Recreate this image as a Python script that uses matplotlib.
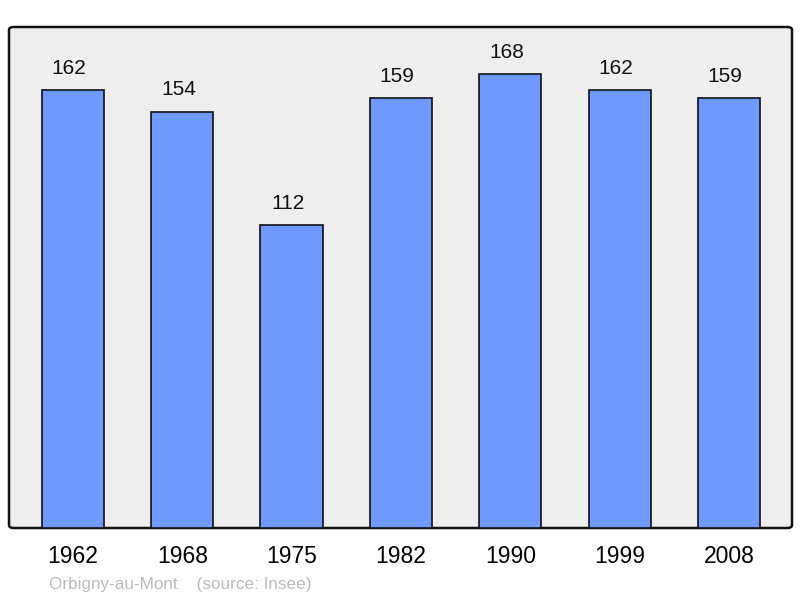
import matplotlib
matplotlib.use('Agg')
import matplotlib.pyplot as plt
from matplotlib.patches import FancyBboxPatch

plt.rcParams['font.family'] = ['Liberation Sans', 'DejaVu Sans']

years = ['1962', '1968', '1975', '1982', '1990', '1999', '2008']
population = [162, 154, 112, 159, 168, 162, 159]
town = 'Orbigny-au-Mont'
source = '(source: Insee)'

W, H = 800, 598
fig = plt.figure(figsize=(W / 100, H / 100), dpi=100)
ax = fig.add_axes([9 / W, (H - 528) / H, (792 - 9) / W, (528 - 27) / H])
ax.set_xlim(-0.585, 6.576)
ax.set_ylim(0, 185.3)

# rounded background frame
frame = FancyBboxPatch((0, 0), 1, 1, boxstyle='round,pad=0,rounding_size=0.006',
                       transform=ax.transAxes, facecolor='#eeeeee',
                       edgecolor='#111111', linewidth=1.8, zorder=0, clip_on=False)
ax.add_patch(frame)
ax.set_facecolor('none')
for s in ax.spines.values():
    s.set_visible(False)

x = list(range(len(years)))
ax.bar(x, population, width=0.57, color='#7099ff', edgecolor='#111111',
       linewidth=1.2, zorder=2)

# value labels sit a little left of the bar centre in the original
for xi, v in zip(x, population):
    ax.text(xi - 0.035, v + 4.5, str(v), ha='center', va='bottom', fontsize=15, color='#111111')

ax.set_xticks(x)
ax.set_xticklabels(years, fontsize=16.5)
ax.tick_params(axis='x', length=0, pad=12)
ax.set_yticks([])

fig.text(49 / W, 1 - 584 / H, town + '    ' + source, fontsize=12.3,
         color='#bbbbbb', ha='left', va='center')

fig.savefig('out.png', dpi=100)
